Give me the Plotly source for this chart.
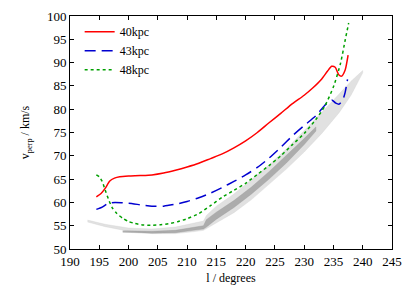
import plotly.graph_objects as go

# 40kpc (red, solid)
l_40 = [194.5, 195.3, 196.0, 196.8, 197.6, 198.5, 200, 202, 204, 206, 208, 210, 212, 214, 216, 218,
        220, 222, 224, 226, 228, 230, 231.5, 233, 234, 234.7, 235.3, 235.9, 236.4, 237.0, 237.5]
v_40 = [61.2, 61.9, 63.0, 64.6, 65.2, 65.5, 65.65, 65.75, 65.9, 66.3, 66.9, 67.6, 68.4, 69.4, 70.4, 71.7,
        73.2, 75.0, 77.1, 79.1, 81.2, 83.0, 84.6, 86.5, 88.2, 89.2, 89.0, 87.4, 87.1, 88.4, 91.6]

# 43kpc (blue, dashed)
l_43 = [194.5, 195.5, 196.5, 197.7, 199, 200, 202, 204, 206, 208, 210, 212, 214, 216, 218, 220, 222,
        224, 226, 228, 230, 232, 233.5, 234.7, 235.4, 236.0, 236.6, 237.0, 237.4]
v_43 = [58.5, 59.0, 59.8, 60.0, 59.9, 59.8, 59.5, 59.2, 59.2, 59.6, 60.2, 61.0, 62.0, 63.2, 64.5, 65.9, 67.5,
        69.5, 71.8, 74.3, 76.5, 78.6, 80.8, 82.0, 81.3, 81.1, 82.0, 83.6, 86.4]

# 48kpc (green, dotted)
l_48 = [194.5, 195.0, 195.5, 196.0, 196.6, 197.2, 198.0, 199, 200, 201, 202.5, 204, 205.5, 207, 208.5,
        210, 212, 214, 216, 218, 220, 222, 224, 226, 228, 230, 232, 233.5, 235, 236.2, 237.0, 237.6]
v_48 = [65.9, 65.5, 64.5, 62.7, 60.6, 58.9, 57.6, 56.6, 55.9, 55.5, 55.15, 55.1, 55.2, 55.45, 55.9,
        56.5, 57.6, 59.3, 61.1, 62.6, 64.1, 66.0, 67.9, 70.0, 72.4, 74.8, 77.8, 80.6, 84.8, 89.8, 94.8, 98.5]

# particle cloud (grey): outer light envelope
cloud_l = [193, 196, 200, 204, 208, 211, 212.8, 213.3, 215, 218, 221, 224, 227, 230, 233, 236, 238, 240]
cloud_hi = [56.2, 55.3, 54.5, 54.3, 54.7, 55.5, 56.0, 57.2, 59.2, 61.8, 64.8, 68.0, 71.5, 75.3, 79.3, 83.3, 86.0, 88.3]
cloud_lo = [55.8, 54.8, 53.8, 53.3, 53.3, 53.7, 54.0, 54.2, 55.5, 57.8, 60.6, 63.8, 67.2, 70.8, 74.8, 79.3, 83.0, 87.8]

# dense core of the cloud
core_l = [199, 204, 208, 211, 212.8, 213.3, 215, 218, 221, 224, 227, 230, 232]
core_hi = [53.9, 53.8, 54.0, 54.6, 55.0, 56.3, 57.9, 60.4, 63.3, 66.6, 70.1, 73.7, 76.2]
core_lo = [53.6, 53.4, 53.5, 54.0, 54.3, 54.7, 56.4, 58.9, 61.8, 65.0, 68.5, 72.4, 75.3]

x_ticks = list(range(190, 246, 5))
y_ticks = list(range(50, 101, 5))

FONT = "Liberation Serif, Times New Roman, serif"

fig = go.Figure()

fig.add_trace(go.Scatter(
    x=cloud_l + cloud_l[::-1], y=cloud_hi + cloud_lo[::-1],
    fill="toself", fillcolor="rgba(205,205,205,0.6)", mode="lines",
    line=dict(width=0.5, color="rgba(205,205,205,0.6)"),
    showlegend=False, hoverinfo="skip"))
fig.add_trace(go.Scatter(
    x=core_l + core_l[::-1], y=core_hi + core_lo[::-1],
    fill="toself", fillcolor="rgba(150,150,150,0.7)", mode="lines",
    line=dict(width=0.5, color="rgba(150,150,150,0.7)"),
    showlegend=False, hoverinfo="skip"))

fig.add_trace(go.Scatter(x=l_40, y=v_40, mode="lines", name="40kpc",
                         line=dict(color="#ff0000", width=1.5, shape="spline", smoothing=0.6)))
fig.add_trace(go.Scatter(x=l_43, y=v_43, mode="lines", name="43kpc",
                         line=dict(color="#0000d0", width=1.5, dash="11px,6px", shape="spline", smoothing=0.6)))
fig.add_trace(go.Scatter(x=l_48, y=v_48, mode="lines", name="48kpc",
                         line=dict(color="#00a000", width=1.5, dash="3px,3px", shape="spline", smoothing=0.6)))

axis_common = dict(
    showgrid=False, zeroline=False, showline=True, linecolor="black", linewidth=1,
    mirror="allticks", ticks="inside", ticklen=4, tickcolor="black", tickwidth=1,
    tickfont=dict(family=FONT, size=13, color="black"), automargin=False,
)

fig.update_xaxes(range=[190, 245], tickvals=x_ticks, **axis_common,
                 title=dict(text="l / degrees", font=dict(family=FONT, size=12, color="black"), standoff=6))
fig.update_yaxes(range=[50, 100], tickvals=y_ticks, **axis_common,
                 title=dict(text="v<sub>perp</sub> / km/s", font=dict(family=FONT, size=12, color="black"), standoff=14))

fig.update_layout(
    width=415, height=291,
    margin=dict(l=70, r=23, t=16, b=42),
    paper_bgcolor="white", plot_bgcolor="white",
    font=dict(family=FONT, size=12, color="black"),
    legend=dict(x=0.03, y=0.995, xanchor="left", yanchor="top",
                bgcolor="rgba(0,0,0,0)", font=dict(family=FONT, size=12),
                tracegroupgap=0, itemwidth=30),
)

fig.write_html("out.html", config={"displayModeBar": False},
               post_script="document.body.style.margin='0';document.body.style.overflow='hidden';")
